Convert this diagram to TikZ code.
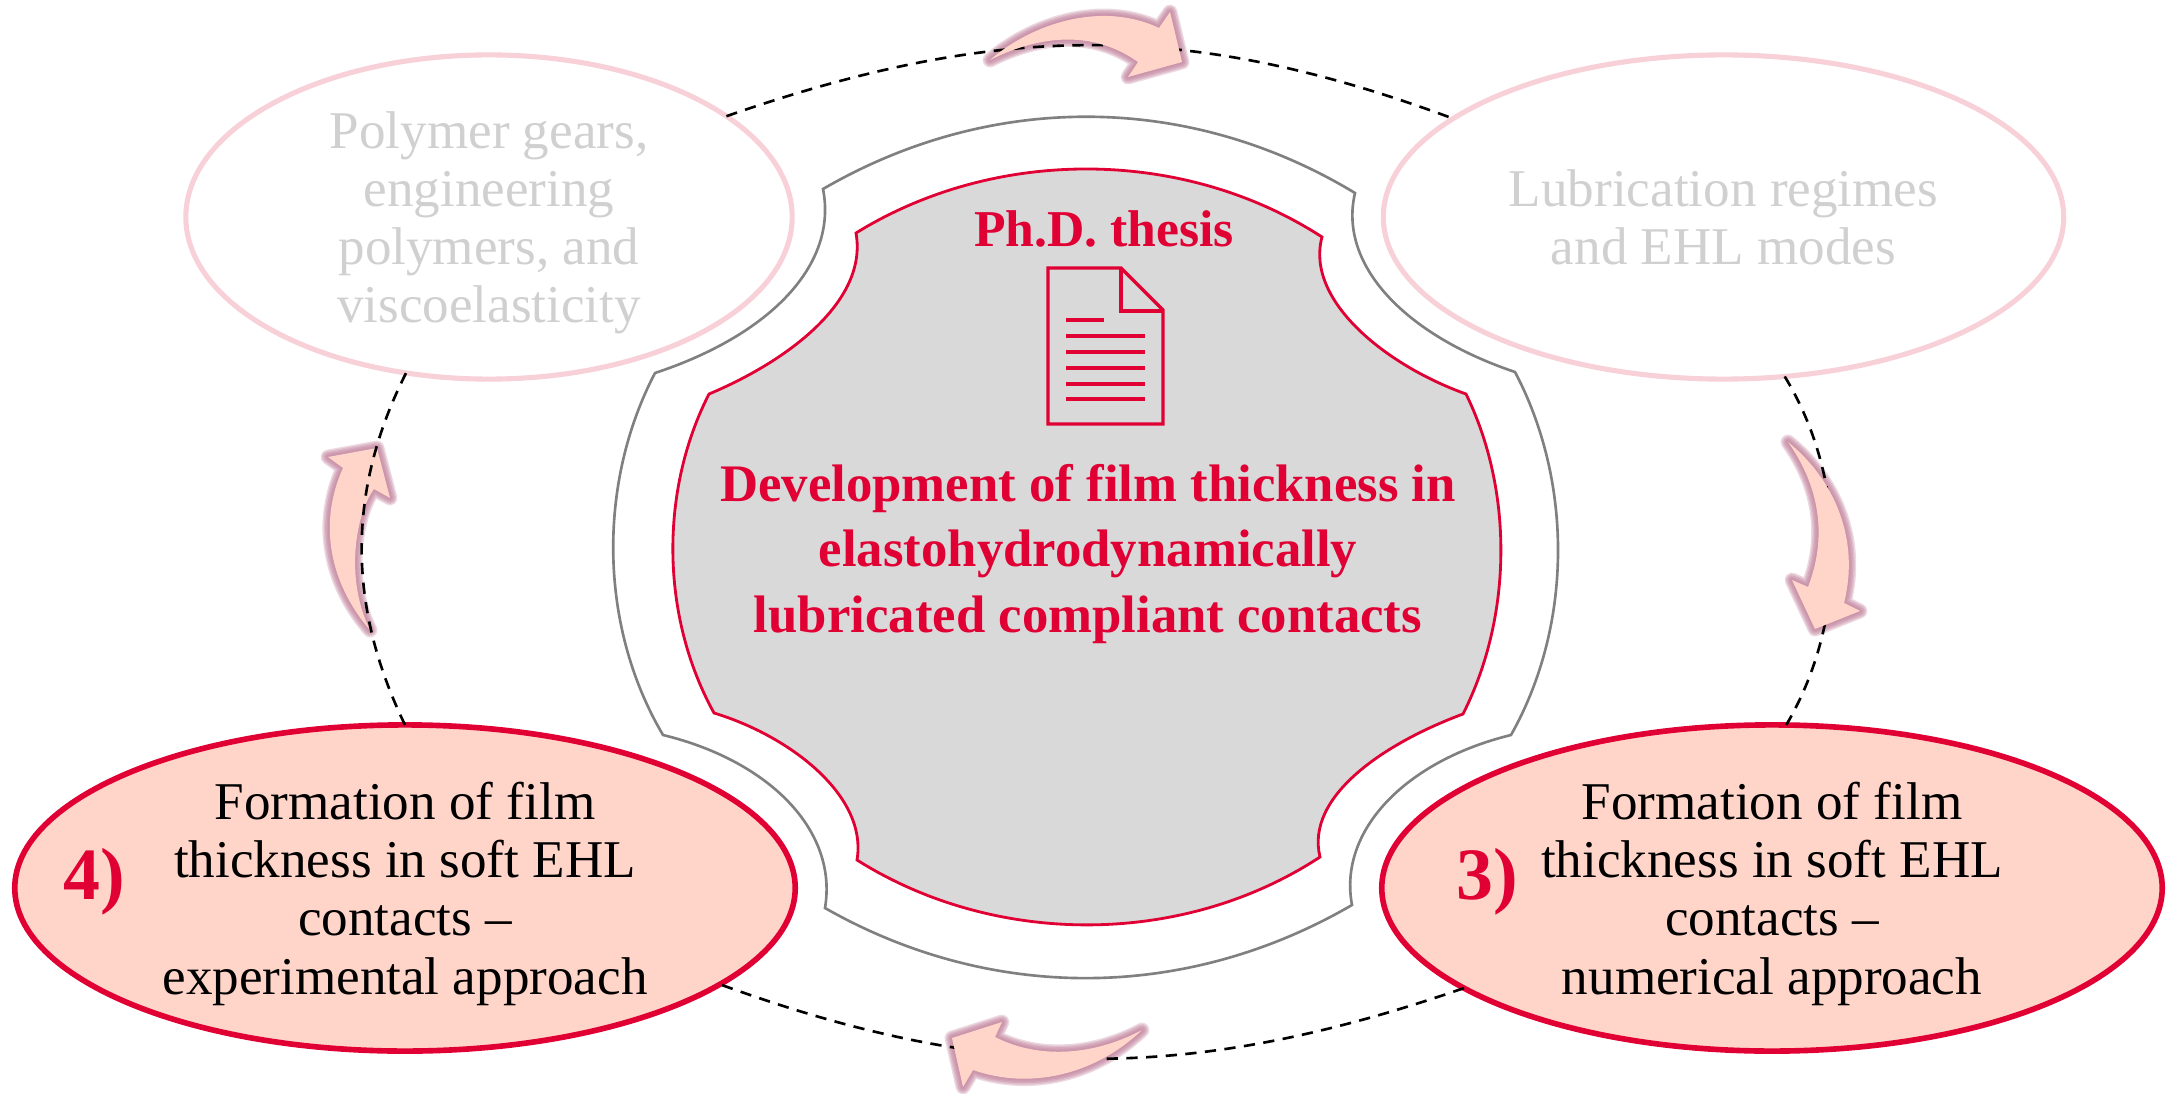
\documentclass[tikz,border=0pt]{standalone}
\usepackage{fontspec}
\setmainfont{Liberation Serif}
\usetikzlibrary{shapes.geometric}
\definecolor{rd}{HTML}{E00034}
\definecolor{pk}{HTML}{F8D0D8}
\definecolor{peach}{HTML}{FFD5C9}
\definecolor{fade}{HTML}{D0D0D0}
\definecolor{glowc}{HTML}{C07F9A}
\tikzset{
  bubble/.style={ellipse,inner sep=-10pt,outer sep=0pt,align=center,font=\fontsize{15.1}{16.5}\selectfont},
  faded/.style={bubble,draw=pk,line width=1.45pt,text=fade,minimum width=6.06cm,minimum height=3.24cm},
  active/.style={bubble,draw=rd,fill=peach,line width=1.6pt,text=black,minimum width=7.8cm,minimum height=3.26cm},
  ring/.style={black,line width=0.75pt,dash pattern=on 3.2pt off 2.4pt},
  arrowfill/.style={fill=peach,draw=none},
  glow/.style={draw=glowc,line join=round,opacity=0.3},
  numlab/.style={font=\fontsize{21}{24}\bfseries\selectfont,text=rd,inner sep=0pt},
  title/.style={font=\fontsize{15}{18.5}\bfseries\selectfont,text=rd,align=center,inner sep=0pt},
  docline/.style={draw=rd,line width=1.1pt}
}
\newcommand\glowshape[1]{%
  \foreach \w in {4.2,3.4,2.6,1.8,1.0}{\draw[glow,line width=\w pt] #1;}}
\newcommand\arrowtop{(990,60) .. controls (1030,25) and (1100,0) .. (1159,28) -- (1170,12) -- (1182,62) -- (1128,77) -- (1138,62) .. controls (1100,35) and (1050,30) .. cycle}
\newcommand\arrowright{(1788,442) .. controls (1815,480) and (1830,530) .. (1808,587) -- (1792,580) -- (1815,629) -- (1860,611) -- (1844,603) .. controls (1860,540) and (1835,480) .. cycle}
\newcommand\arrowbottom{(952,1038) -- (1002,1022) -- (995,1037) .. controls (1040,1060) and (1095,1055) .. (1142,1030) .. controls (1095,1075) and (1030,1090) .. (973,1070) -- (963,1087) -- cycle}
\newcommand\arrowleft{(370,630) .. controls (335,590) and (315,530) .. (343,468) -- (328,457) -- (377,448) -- (390,498) -- (374,489) .. controls (355,515) and (345,580) .. cycle}
\newcommand\lowr{\rule{0pt}{14pt}}
\begin{document}
\begin{tikzpicture}[x=0.01cm,y=-0.01cm]
\useasboundingbox (0,0) rectangle (2175,1094);
% bubbles are placed first so that the ring can refer to them
\node[faded] (tl) at (489,217) {\lowr Polymer gears,\\engineering\\polymers, and\\viscoelasticity};
\node[faded,minimum width=6.8cm] (tr) at (1723.5,217) {Lubrication regimes\\and EHL modes};
\node[active] (bl) at (405,888) {\lowr Formation of film\\thickness in soft EHL\\contacts --\\experimental approach};
\node[active] (br) at (1772,888) {\lowr Formation of film\\thickness in soft EHL\\contacts --\\numerical approach};
\node[numlab] (n4) at (94,882) {4)};
\node[numlab] (n3) at (1487,882) {3)};
% glows
\glowshape{\arrowtop}
\glowshape{\arrowright}
\glowshape{\arrowbottom}
\glowshape{\arrowleft}
\fill[arrowfill] \arrowleft;
% dashed ring
\draw[ring] (tl.23.8) .. controls (1000,21) and (1190,21) .. (tr.160);
\draw[ring] (tr.-69.6) .. controls (1848,480) and (1848,620) .. (br.85);
\draw[ring] (br.198.3) .. controls (1190,1083) and (990,1083) .. (bl.-17.9);
\draw[ring] (bl.90) .. controls (347,605) and (347,490) .. (tl.242);
% arrow bodies
\fill[arrowfill] \arrowtop;
\fill[arrowfill] \arrowright;
\fill[arrowfill] \arrowbottom;
% outer grey outline
\draw[draw=black!50,line width=0.75pt,line join=miter]
  (823,189) .. controls (990,92) and (1188,92) .. (1355,193)
  .. controls (1338,265) and (1405,335) .. (1515,372)
  .. controls (1573,482) and (1573,625) .. (1511,735)
  .. controls (1405,761) and (1338,831) .. (1352,905)
  .. controls (1185,1002) and (990,1002) .. (825,908)
  .. controls (838,831) and (770,761) .. (663,735)
  .. controls (598,625) and (598,482) .. (655,373)
  .. controls (770,335) and (838,265) .. cycle;
% inner red shape
\draw[draw=rd,fill=black!15,line width=0.8pt]
  (856,233) .. controls (995,147) and (1183,147) .. (1322,237)
  .. controls (1305,300) and (1385,365) .. (1466,394)
  .. controls (1513,490) and (1513,615) .. (1463,714)
  .. controls (1385,743) and (1305,796) .. (1320,857)
  .. controls (1183,947) and (995,947) .. (857,860)
  .. controls (868,796) and (790,736) .. (714,713)
  .. controls (660,615) and (660,490) .. (709,394)
  .. controls (790,360) and (868,300) .. cycle;
% document icon
\draw[draw=rd,line width=0.95pt,line join=miter] (1048,268) -- (1121,268) -- (1163,310) -- (1163,424) -- (1048,424) -- cycle;
\draw[draw=rd,line width=0.95pt,line join=miter] (1121,268) -- (1121,311) -- (1163,311);
\draw[docline] (1066,320) -- (1104,320);
\draw[docline] (1066,336) -- (1145,336);
\draw[docline] (1066,352) -- (1145,352);
\draw[docline] (1066,368) -- (1145,368);
\draw[docline] (1066,384) -- (1145,384);
\draw[docline] (1066,399) -- (1145,399);
% titles
\node[title,font=\fontsize{14.7}{18.5}\bfseries\selectfont] (phd) at (1104,229) {Ph.D. thesis};
\node[title] (main) at (1088,554) {Development of film thickness in\\elastohydrodynamically\\lubricated compliant contacts};
\end{tikzpicture}
\end{document}
